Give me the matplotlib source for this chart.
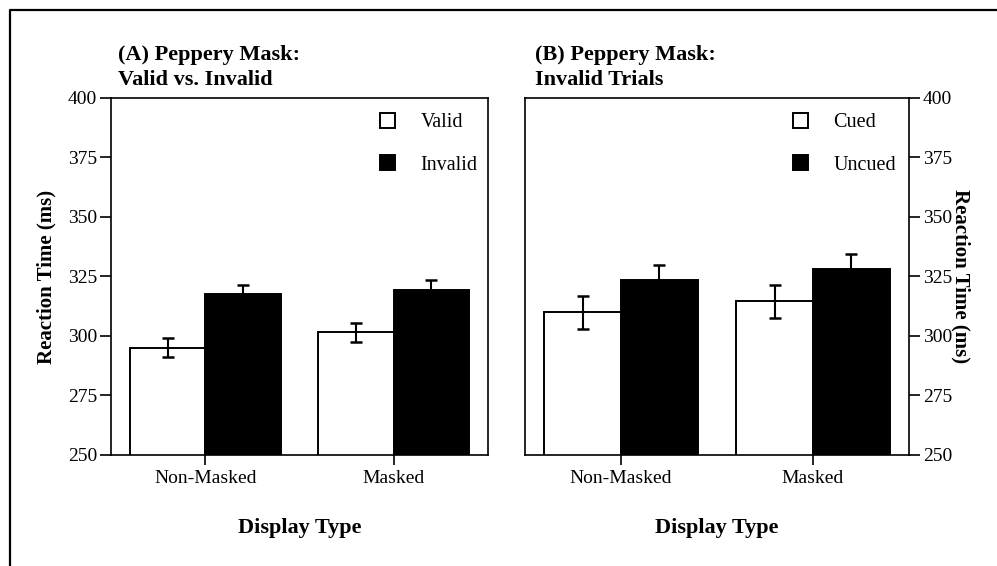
import matplotlib
matplotlib.use("Agg")
import matplotlib.pyplot as plt
from matplotlib.lines import Line2D
import numpy as np

plt.rcParams['font.family'] = ['Liberation Serif', 'DejaVu Serif']

# ---- data ----
display_types = ["Non-Masked", "Masked"]

a_labels = ["Valid", "Invalid"]
a_valid = [295.0, 301.5]
a_invalid = [317.5, 319.5]
a_valid_err = [4.0, 4.0]
a_invalid_err = [4.0, 4.0]

b_labels = ["Cued", "Uncued"]
b_cued = [310.0, 314.5]
b_uncued = [323.5, 328.0]
b_cued_err = [7.0, 7.0]
b_uncued_err = [6.5, 6.5]

yticks = [250, 275, 300, 325, 350, 375, 400]
titles = ["(A) Peppery Mask:\nValid vs. Invalid", "(B) Peppery Mask:\nInvalid Trials"]
ylabel = "Reaction Time (ms)"
xlabel = "Display Type"

W, H = 997, 566
fig = plt.figure(figsize=(W / 100, H / 100), dpi=100)

def fx(px):
    return px / W

def fy(py):
    return 1 - py / H

axA = fig.add_axes([fx(111), fy(455), fx(488) - fx(111), fy(98) - fy(455)])
axB = fig.add_axes([fx(525), fy(455), fx(909) - fx(525), fy(98) - fy(455)])

centers = np.array([0.5, 1.5])
bw = 0.4

def draw(ax, v1, v2, e1, e2, labels, side, legx):
    b1 = ax.bar(centers - bw / 2, v1, width=bw, color="white",
                edgecolor="black", linewidth=1.4, label=labels[0], zorder=2)
    b2 = ax.bar(centers + bw / 2, v2, width=bw, color="black",
                edgecolor="black", linewidth=1.4, label=labels[1], zorder=2)
    ax.errorbar(centers - bw / 2, v1, yerr=e1, fmt="none", ecolor="black",
                elinewidth=1.5, capsize=4.5, capthick=1.8, zorder=3)
    ax.errorbar(centers + bw / 2, v2, yerr=e2, fmt="none", ecolor="black",
                elinewidth=1.5, capsize=4.5, capthick=1.8, zorder=3)
    ax.set_xlim(0, 2)
    ax.set_ylim(250, 400)
    ax.set_yticks(yticks)
    ax.set_xticks(centers)
    ax.set_xticklabels(display_types, fontsize=14)
    for s in ax.spines.values():
        s.set_linewidth(1.2)
    ax.tick_params(axis="x", direction="out", length=7, width=1.2, pad=4)
    ax.tick_params(axis="y", direction="out", length=8, width=1.2, labelsize=14, pad=2)
    if side == "right":
        ax.yaxis.tick_right()
        ax.yaxis.set_label_position("right")
        ax.set_ylabel(ylabel, fontsize=15, fontweight="bold", rotation=270, labelpad=13)
    else:
        ax.set_ylabel(ylabel, fontsize=15, fontweight="bold", labelpad=8)
    ax.set_xlabel(xlabel, fontsize=16, fontweight="bold", labelpad=22)
    leg = ax.legend(handles=[b1, b2], loc="upper right", bbox_to_anchor=(legx, 1.015),
                    frameon=False, fontsize=14.5, handlelength=0.75, handleheight=0.75,
                    handletextpad=1.25, labelspacing=1.15, borderaxespad=0.6)
    return leg

draw(axA, a_valid, a_invalid, a_valid_err, a_invalid_err, a_labels, "left", 1.026)
draw(axB, b_cued, b_uncued, b_cued_err, b_uncued_err, b_labels, "right", 1.019)

fig.text(fx(118), fy(85), titles[0], fontsize=16, fontweight="bold",
         ha="left", va="baseline", linespacing=1.35)
fig.text(fx(535), fy(85), titles[1], fontsize=16, fontweight="bold",
         ha="left", va="baseline", linespacing=1.35)

# page frame (top and left edges of the scanned box)
fig.add_artist(Line2D([fx(10), fx(10), 1.0], [0.0, fy(10), fy(10)],
                      transform=fig.transFigure, color="black", linewidth=1.6))

fig.savefig("out.png", dpi=100)
